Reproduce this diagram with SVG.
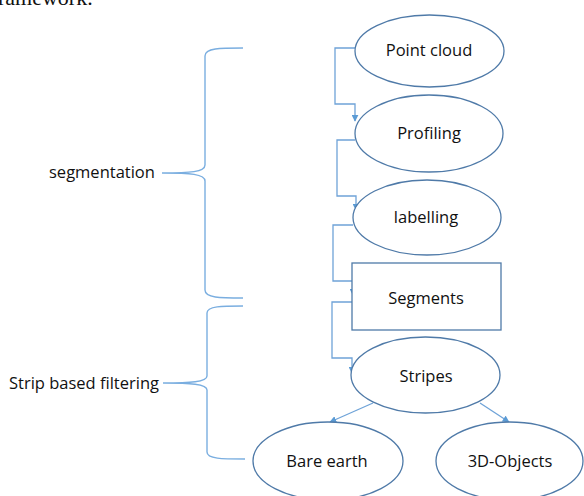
<svg xmlns="http://www.w3.org/2000/svg" width="584" height="496" viewBox="0 0 584 496">
<style>
.node{fill:#fff;stroke:#4f7aa8;stroke-width:1.3}
.lbl{font-family:"Open Sans","Liberation Sans",sans-serif;font-size:16.5px;fill:#111;text-anchor:middle}
.side{font-family:"Open Sans","Liberation Sans",sans-serif;font-size:16.5px;fill:#111}
.con{fill:none;stroke:#6fa3d8;stroke-width:1.3}
.brace{fill:none;stroke:#7aaee0;stroke-width:1.4}
</style>
<defs>
<marker id="ah" viewBox="0 0 10 10" refX="9" refY="5" markerWidth="7" markerHeight="7" markerUnits="userSpaceOnUse" orient="auto">
<path d="M0,0 L10,5 L0,10 z" fill="#5b9bd5"/>
</marker>
</defs>
<rect width="584" height="496" fill="#fff"/>
<text x="-2" y="5" font-family="Liberation Serif,serif" font-size="22" fill="#111">ramework.</text>
<g id="braces">
<path class="brace" d="M243,48 C220,48 205,48 205,56 V165 C205,172 190,173 162,173 C190,173 205,174 205,181 V290 C205,298 220,298 243,298"/>
<path class="brace" d="M243,306 C222,306 207,306 207,313 V376 C207,382 190,383 163,383 C190,383 207,384 207,390 V452 C207,459 222,459 245,459"/>
</g>
<g id="labels">
<text class="side" x="49" y="178">segmentation</text>
<text class="side" x="9" y="389">Strip based filtering</text>
</g>
<g id="connectors">
<path class="con" d="M355,48 H335 V104 H355 V121" marker-end="url(#ah)"/>
<path class="con" d="M355,140 H337 V196 H356 V210" marker-end="url(#ah)"/>
<path class="con" d="M353,225 H333 V281 H353 V295" marker-end="url(#ah)"/>
<path class="con" d="M352,302 H332 V358 H352 V373" marker-end="url(#ah)"/>
<path class="con" d="M373,403 L330,422" marker-end="url(#ah)"/>
<path class="con" d="M480,403 L509,422" marker-end="url(#ah)"/>
</g>
<g id="point-cloud">
<ellipse class="node" cx="429.5" cy="51" rx="74.5" ry="36"/>
<text class="lbl" x="429" y="56">Point cloud</text>
</g>
<g id="profiling">
<ellipse class="node" cx="429" cy="133.5" rx="74" ry="38.5"/>
<text class="lbl" x="429" y="139">Profiling</text>
</g>
<g id="labelling">
<ellipse class="node" cx="427" cy="217.5" rx="74" ry="37.5"/>
<text class="lbl" x="426" y="223">labelling</text>
</g>
<g id="segments">
<rect class="node" x="352" y="263" width="149" height="67"/>
<text class="lbl" x="426" y="304">Segments</text>
</g>
<g id="stripes">
<ellipse class="node" cx="425.5" cy="375" rx="74.5" ry="38"/>
<text class="lbl" x="426" y="382">Stripes</text>
</g>
<g id="bare-earth">
<ellipse class="node" cx="328" cy="461" rx="75" ry="39"/>
<text class="lbl" x="327" y="467">Bare earth</text>
</g>
<g id="objects-3d">
<ellipse class="node" cx="509.5" cy="461" rx="73.5" ry="39"/>
<text class="lbl" x="510" y="467">3D-Objects</text>
</g>
</svg>
